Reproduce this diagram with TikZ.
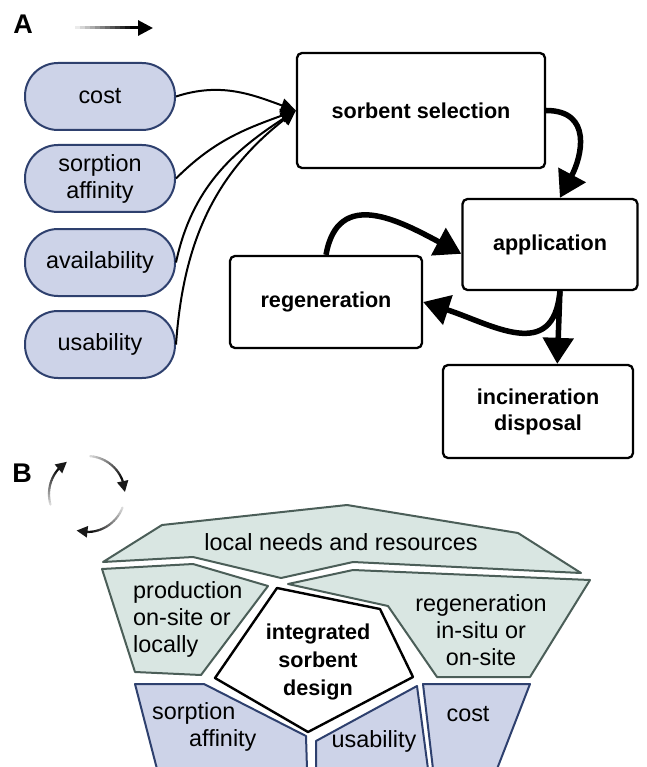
\documentclass[tikz,border=0pt]{standalone}
\usepackage{fontspec}
\setmainfont{Liberation Sans}
\usetikzlibrary{arrows.meta}
\definecolor{pillfill}{RGB}{205,211,232}
\definecolor{pillline}{RGB}{46,64,110}
\definecolor{grnfill}{RGB}{217,230,226}
\definecolor{grnline}{RGB}{75,94,88}
\newcommand\myreg{\fontsize{23.4}{27}\selectfont}
\newcommand\mybold{\bfseries\fontsize{21.6}{26}\selectfont}
\tikzset{
  pill/.style={draw=pillline, fill=pillfill, line width=2pt, rounded corners=33pt,
    minimum width=150pt, minimum height=67pt, inner sep=0pt, align=center, font=\myreg},
  stagebox/.style={draw=black, fill=white, line width=2.3pt, rounded corners=5pt,
    inner sep=0pt, align=center, font=\mybold},
  thinarr/.style={line width=2pt, -{Triangle[length=15pt,width=14pt]}},
  thickarr/.style={line width=5.5pt, -{Triangle[length=26pt,width=30pt]}},
  grnpoly/.style={draw=grnline, fill=grnfill, line width=2pt, line join=round},
  bluepoly/.style={draw=pillline, fill=pillfill, line width=2pt, line join=round},
  centpoly/.style={draw=black, fill=white, line width=2.4pt, line join=round},
  lbl/.style={font=\myreg, align=center, inner sep=0pt},
}
\begin{document}
\begin{tikzpicture}[x=1pt,y=-1pt]
\useasboundingbox (0,0) rectangle (646,767);
\fill[white] (0,0) rectangle (646,767);

% ---------- panel A ----------
\node[font=\bfseries\fontsize{27}{30}\selectfont, inner sep=0pt] (labA) at (23,24) {A};
\foreach \k in {0,...,11} {
  \pgfmathsetmacro\pp{8+92*\k/11}
  \draw[line width=3pt, color=black!\pp] ({75+5*\k},28) -- ({80.5+5*\k},28);
}
\draw[line width=3pt, -{Triangle[length=15pt,width=15pt]}, color=black!100] (134,28) -- (153,28);

\node[pill] (cost) at (100,96.5) {cost};
\node[pill] (sorp) at (100,178.5) {sorption\\affinity};
\node[pill] (avail) at (100,262.5) {availability};
\node[pill] (usab) at (100,344.5) {usability};

\node[stagebox, minimum width=248pt, minimum height=115pt] (sel) at (421,110.5) {sorbent selection};
\node[stagebox, minimum width=175pt, minimum height=91pt] (app) at (550,244.5) {application};
\node[stagebox, minimum width=192pt, minimum height=92pt] (regen) at (326,302) {regeneration};
\node[stagebox, minimum width=190pt, minimum height=93pt] (incin) at (538,411.5) {incineration\\disposal};

\draw[thinarr] (cost.east) to[out=18, in=160] (sel.west);
\draw[thinarr] (sorp.east) to[out=45, in=200] (sel.west);
\draw[thinarr] (avail.east) to[out=78, in=213] (sel.west);
\draw[thinarr] (usab.east) to[out=86, in=218] (sel.west);

\draw[thickarr] (sel.east) to[out=0, in=62, looseness=1.35] (app.78);
\draw[thickarr] (regen.north) to[out=80, in=152, looseness=1.3] (app.186);
\draw[thickarr] (app.-78) to[out=-95, in=-18, looseness=1.35] (regen.east);
\draw[thickarr] (app.-78) -- (incin.68);

% ---------- panel B ----------
\node[font=\bfseries\fontsize{27}{30}\selectfont, inner sep=0pt] (labB) at (22,473) {B};
\foreach \a/\b in {196/122, 85/3, -21/-106} {
  \foreach \k in {0,...,13} {
    \pgfmathsetmacro\ta{\a+(\b-\a)*\k/18}
    \pgfmathsetmacro\tb{\a+(\b-\a)*(\k+1)/18}
    \pgfmathsetmacro\pp{15+80*\k/13}
    \draw[line width=2.2pt, line cap=round, color=black!\pp]
      ({87+38*cos(\ta)},{494-38*sin(\ta)}) -- ({87+38*cos(\tb)},{494-38*sin(\tb)});
  }
  \pgfmathsetmacro\tc{\a+(\b-\a)*14/18}
  \draw[line width=2.2pt, color=black!90, -{Triangle[length=11pt,width=11pt]}]
    ({87+38*cos(\tc)},{494-38*sin(\tc)}) -- ({87+38*cos(\b)},{494-38*sin(\b)});
}

% polygons
\draw[grnpoly] (103,562) -- (162,525) -- (347,505) -- (518,533) -- (581,573)
  -- (353,562) -- (281,578) -- (193,557) -- cycle;
\draw[grnpoly] (102,569) -- (193,564) -- (268,586) -- (201,675) -- (135,672) -- cycle;
\draw[grnpoly] (288,584) -- (353,570) -- (590,580) -- (530,677) -- (437,677) -- (388,606) -- cycle;
\draw[centpoly] (277,588) -- (380,609) -- (413,677) -- (308,732) -- (215,678) -- cycle;
\draw[bluepoly] (135,684) -- (204,684) -- (306,736) -- (307,769) -- (157,769) -- cycle;
\draw[bluepoly] (316,741) -- (417,686) -- (428,769) -- (316,769) -- cycle;
\draw[bluepoly] (423,684) -- (530,684) -- (497,769) -- (433,769) -- cycle;

\node[lbl] (tlocal) at (341,542) {local needs and resources};
\node[lbl, anchor=west, align=left] (tprod) at (133,619) {production\\on-site or\\locally};
\node[lbl, font=\bfseries\fontsize{21.6}{28}\selectfont] (tint) at (318,662) {integrated\\sorbent\\design};
\node[lbl] (tregen) at (481,630) {regeneration\\in-situ or\\on-site};
\node[lbl, anchor=west, align=left] (tsorp) at (152,727) {sorption\\\hspace*{37pt}affinity};
\node[lbl] (tusab) at (374,741) {usability};
\node[lbl] (tcost) at (468,714) {cost};
\end{tikzpicture}
\end{document}
